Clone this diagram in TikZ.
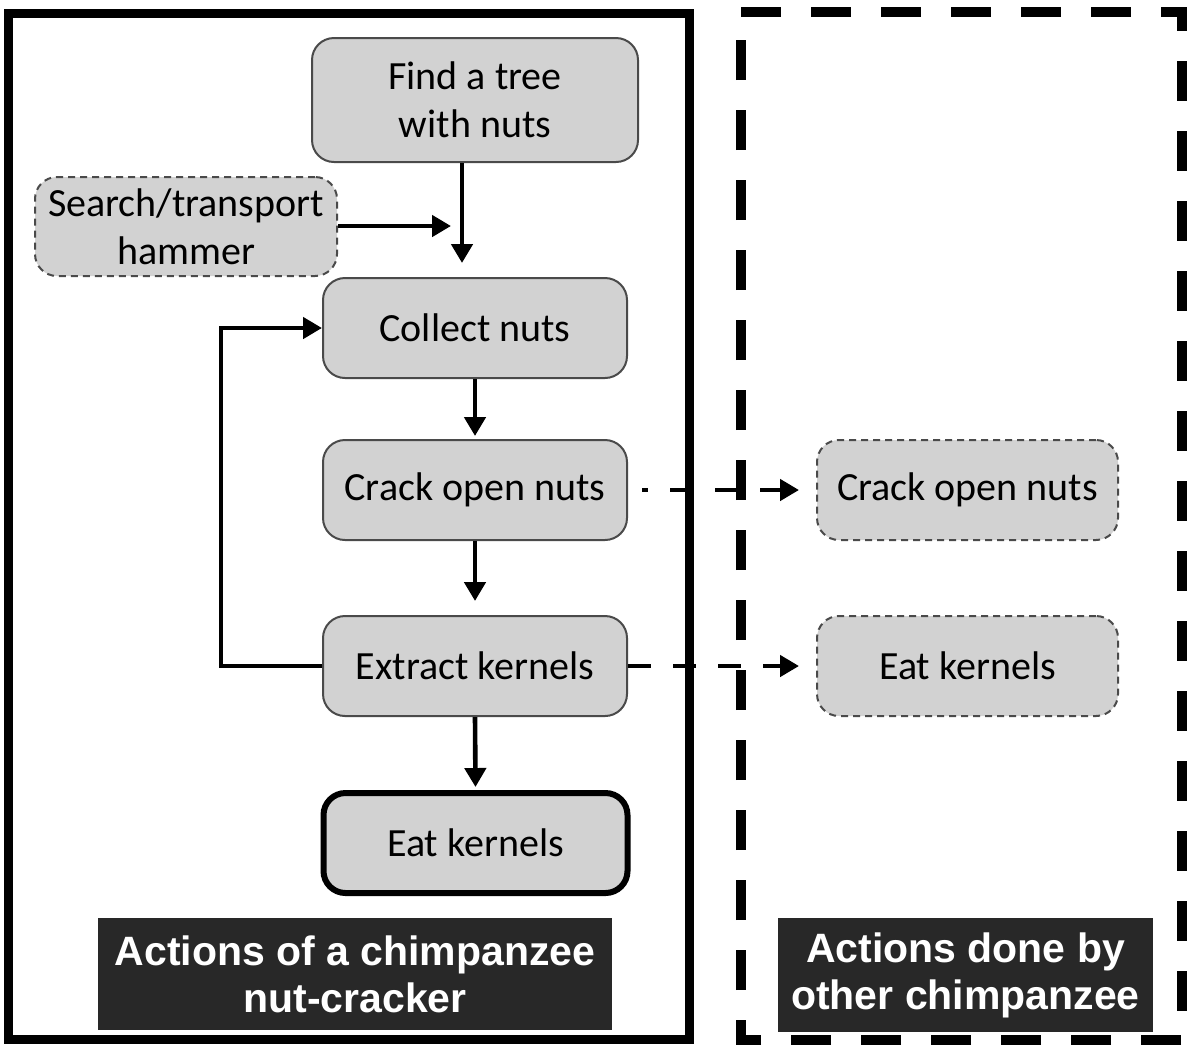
\documentclass[tikz,border=0pt]{standalone}
\usepackage{fontspec}
\setmainfont{Carlito}
\newfontfamily\labelfont{Liberation Sans}
\usetikzlibrary{arrows.meta}
\definecolor{boxfill}{HTML}{D2D2D2}
\definecolor{boxline}{HTML}{4A4A4A}
\definecolor{labfill}{HTML}{282828}
\begin{document}
\begin{tikzpicture}[x=0.5pt,y=-0.5pt,
  proc/.style={draw=boxline, line width=1pt, fill=boxfill, rounded corners=11pt,
    minimum width=152pt, minimum height=50pt, align=center, inner sep=0pt,
    font=\fontsize{20}{24}\selectfont},
  dproc/.style={proc, dash pattern=on 3.5pt off 2.5pt},
  arr/.style={line width=2.3pt, -{Triangle[length=9.5pt,width=10.5pt]}},
  darr/.style={arr, dash pattern=on 11.5pt off 11pt},
  lab/.style={fill=labfill, text=white, align=center, inner sep=0pt,
    font=\labelfont\bfseries\fontsize{20.5}{23.5}\selectfont}]
\useasboundingbox (0,0) rectangle (1192,1046);
% frames
\draw[line width=4.5pt] (8,13) rectangle (689,1039);
\draw[line width=5pt, dash pattern=on 20pt off 15pt] (741,12) -- (1182,12) -- (1182,1040) -- (741,1040) -- cycle;
% label boxes
\node[lab, minimum width=257pt, minimum height=56pt] (labL) at (355,974) {Actions of a chimpanzee\\nut-cracker};
\node[lab, minimum width=187.5pt, minimum height=57pt] (labR) at (965.5,975) {Actions done by\\other chimpanzee};
% nodes
\node[proc, minimum width=163pt, minimum height=62pt] (find) at (475,100) {Find a tree\\with nuts};
\node[dproc, minimum width=151pt, minimum height=49.5pt] (hammer) at (186,226.5) {Search/transport\\hammer};
\node[proc] (collect) at (475,328) {Collect nuts};
\node[proc] (crack) at (475,490) {Crack open nuts};
\node[proc] (extract) at (475,666) {Extract kernels};
\node[proc, draw=black, line width=3pt] (eat) at (475.5,843) {Eat kernels};
\node[dproc, minimum width=150.5pt] (crack2) at (967.5,490) {Crack open nuts};
\node[dproc, minimum width=150.5pt] (eat2) at (967.5,666) {Eat kernels};
% connectors
\coordinate (join) at (462,263);
\coordinate (hjoin) at (451,226);
\draw[arr] (find.south -| join) -- (join);
\draw[arr] (hammer.east |- hjoin) -- (hjoin);
\draw[arr, shorten >=1.5pt] (collect.south) -- (crack.north);
\draw[arr, shorten >=7pt] (crack.south) -- (extract.north);
\draw[arr, shorten >=1.5pt] (extract.south) -- (eat.north);
\draw[arr] (extract.west) -- ++(-101,0) |- (collect.west);
\draw[darr, dash phase=8.5pt, shorten >=8.5pt] ([xshift=7pt]crack.east) -- (crack2.west);
\draw[darr, shorten >=8.5pt] (extract.east) -- (eat2.west);
\end{tikzpicture}
\end{document}
